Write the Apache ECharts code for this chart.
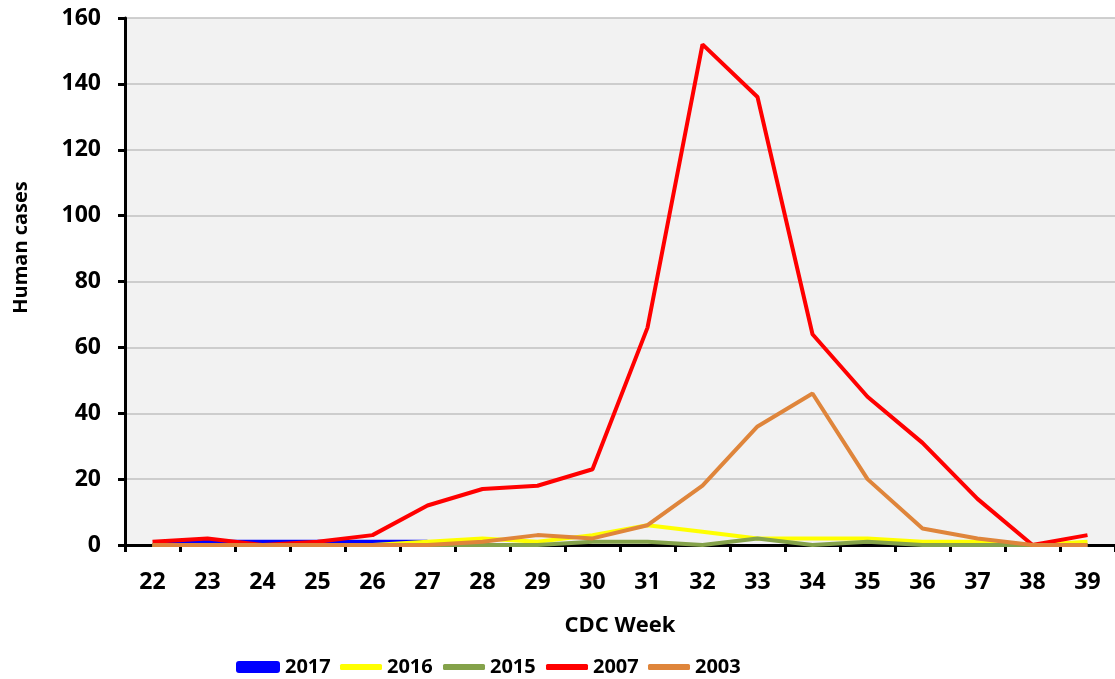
<!DOCTYPE html>
<html>
<head>
<meta charset="utf-8">
<script src="https://cdn.jsdelivr.net/npm/echarts@6/dist/echarts.min.js"></script>
<style>
  html, body { margin: 0; padding: 0; background: #fff; }
  #chart { width: 1115px; height: 679px; }
</style>
</head>
<body>
<div id="chart"></div>
<script>
  // CDC weeks on the x axis
  const weeks = ['22','23','24','25','26','27','28','29','30','31','32','33','34','35','36','37','38','39']
  // human cases per year
  const cases2017 = [0, 1, 1, 1, 1, 1]
  const cases2016 = [0, 0, 0, 0, 0, 1, 2, 1, 3, 6, 4, 2, 2, 2, 1, 1, 0, 1]
  const cases2015 = [0, 0, 0, 0, 0, 0, 0, 0, 1, 1, 0, 2, 0, 1, 0, 0, 0, 0]
  const cases2007 = [1, 2, 0, 1, 3, 12, 17, 18, 23, 66, 152, 136, 64, 45, 31, 14, 0, 3]
  const cases2003 = [0, 0, 0, 0, 0, 0, 1, 3, 2, 6, 18, 36, 46, 20, 5, 2, 0, 0]
  const yTicks = [0, 20, 40, 60, 80, 100, 120, 140, 160]
  const years = ['2017', '2016', '2015', '2007', '2003']

  const font = '"Open Sans", Lato, sans-serif'
  const chart = echarts.init(document.getElementById('chart'))

  const mkLine = (name, data, color) => ({
    name: name,
    type: 'line',
    data: data,
    symbol: 'none',
    lineStyle: { color: color, width: 4 },
    itemStyle: { color: color },
    animation: false
  })

  // one legend per year so each entry sits where the original has it
  const legendLeft = [231, 335, 438, 541, 643]
  const legends = years.map((y, i) => ({
    data: [y], left: legendLeft[i], top: 652,
    icon: 'roundRect', itemWidth: i === 0 ? 44 : 42, itemHeight: i === 0 ? 12 : 6,
    textStyle: { color: '#000', fontFamily: font, fontWeight: 'bold', fontSize: 20 }
  }))

  chart.setOption({
    backgroundColor: '#fff',
    grid: {
      left: 125, top: 18, right: -11, bottom: 134,
      show: true, backgroundColor: '#f2f2f2', borderWidth: 0
    },
    legend: legends,
    xAxis: {
      type: 'category',
      data: weeks,
      boundaryGap: true,
      name: 'CDC Week',
      nameLocation: 'middle',
      nameGap: 70,
      nameTextStyle: { color: '#000', fontFamily: font, fontWeight: 'bold', fontSize: 22 },
      axisLine: { lineStyle: { color: '#000', width: 3 } },
      axisTick: { show: true, length: 7, lineStyle: { color: '#000', width: 3 } },
      axisLabel: { color: '#000', fontFamily: font, fontWeight: 'bold', fontSize: 23, margin: 26, interval: 0 },
      splitLine: { show: false }
    },
    yAxis: {
      type: 'value',
      min: yTicks[0],
      max: yTicks[yTicks.length - 1],
      interval: 20,
      name: 'Human cases',
      nameLocation: 'middle',
      nameGap: 94,
      nameTextStyle: { color: '#000', fontFamily: font, fontWeight: 'bold', fontSize: 20, padding: [0, 0, 0, 68] },
      axisLine: { show: true, lineStyle: { color: '#000', width: 3 } },
      axisTick: { show: true, length: 7, lineStyle: { color: '#000', width: 3 } },
      axisLabel: { color: '#000', fontFamily: font, fontWeight: 'bold', fontSize: 23, margin: 24 },
      splitLine: { show: true, lineStyle: { color: '#c0c0c0', width: 1.5 } }
    },
    series: [
      mkLine('2017', cases2017, '#0000ff'),
      mkLine('2016', cases2016, '#ffff00'),
      mkLine('2015', cases2015, '#84a24a'),
      mkLine('2007', cases2007, '#ff0000'),
      mkLine('2003', cases2003, '#df853b')
    ]
  })
</script>
</body>
</html>
